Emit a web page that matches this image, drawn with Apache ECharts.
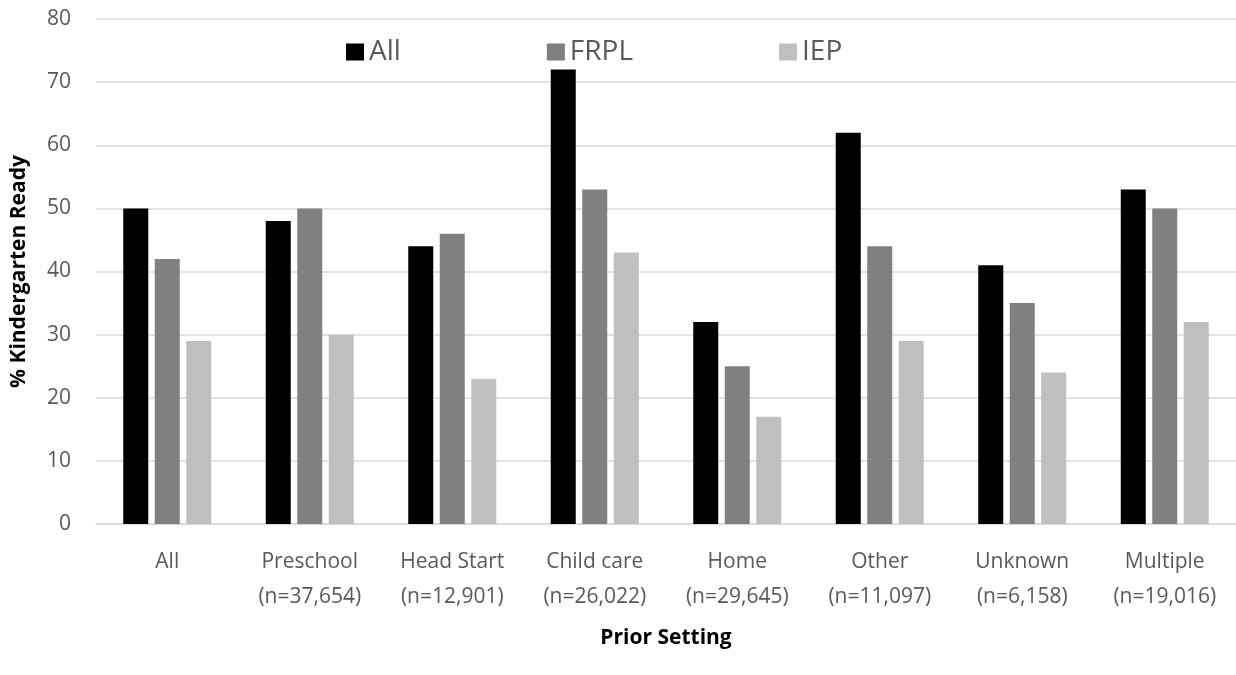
<!DOCTYPE html>
<html>
<head>
<meta charset="utf-8">
<script src="https://cdn.jsdelivr.net/npm/echarts@6/dist/echarts.min.js"></script>
<style>
html,body{margin:0;padding:0;background:#fff;}
#c{width:1236px;height:675px;}
</style>
</head>
<body>
<div id="c"></div>
<script>
const categories = ["All", "Preschool\n(n=37,654)", "Head Start\n(n=12,901)", "Child care\n(n=26,022)", "Home\n(n=29,645)", "Other\n(n=11,097)", "Unknown\n(n=6,158)", "Multiple\n(n=19,016)"];
const seriesNames = ["All", "FRPL", "IEP"];
const allValues = [50, 48, 44, 72, 32, 62, 41, 53];
const frplValues = [42, 50, 46, 53, 25, 44, 35, 50];
const iepValues = [29, 30, 23, 43, 17, 29, 24, 32];
const yTicks = { min: 0, max: 80, interval: 10 };

const colors = ["#000000", "#808080", "#bfbfbf"];
const font = "'Open Sans', 'Noto Sans', sans-serif";
const chart = echarts.init(document.getElementById('c'));
const data = [allValues, frplValues, iepValues];
chart.setOption({
  animation: false,
  textStyle: { fontFamily: font },
  legend: {
    left: 341, top: 33,
    itemWidth: 18, itemHeight: 17, itemGap: 146,
    icon: 'rect',
    textStyle: { fontSize: 28, color: '#595959', fontFamily: font },
    data: seriesNames
  },
  grid: { left: 96, right: 0, top: 19, bottom: 151 },
  xAxis: {
    type: 'category',
    data: categories,
    axisLine: { lineStyle: { color: '#d9d9d9', width: 1.5 } },
    axisTick: { show: false },
    axisLabel: { color: '#595959', fontSize: 21, lineHeight: 35, margin: 21, fontFamily: font, interval: 0 },
    name: 'Prior Setting',
    nameLocation: 'middle',
    nameGap: 104,
    nameTextStyle: { fontSize: 21, fontWeight: 'bold', color: '#000', fontFamily: font }
  },
  yAxis: {
    type: 'value',
    min: yTicks.min, max: yTicks.max, interval: yTicks.interval,
    axisLine: { show: false },
    axisTick: { show: false },
    splitLine: { lineStyle: { color: '#d9d9d9', width: 1.5 } },
    axisLabel: { color: '#595959', fontSize: 21, margin: 25, fontFamily: font },
    name: '% Kindergarten Ready',
    nameLocation: 'middle',
    nameGap: 66,
    nameRotate: 90,
    nameTextStyle: { fontSize: 21, fontWeight: 'bold', color: '#000', fontFamily: font }
  },
  series: seriesNames.map((n, i) => ({
    name: n,
    type: 'bar',
    data: data[i],
    barWidth: 25,
    barGap: '26%',
    itemStyle: { color: colors[i] }
  }))
});
</script>
</body>
</html>
